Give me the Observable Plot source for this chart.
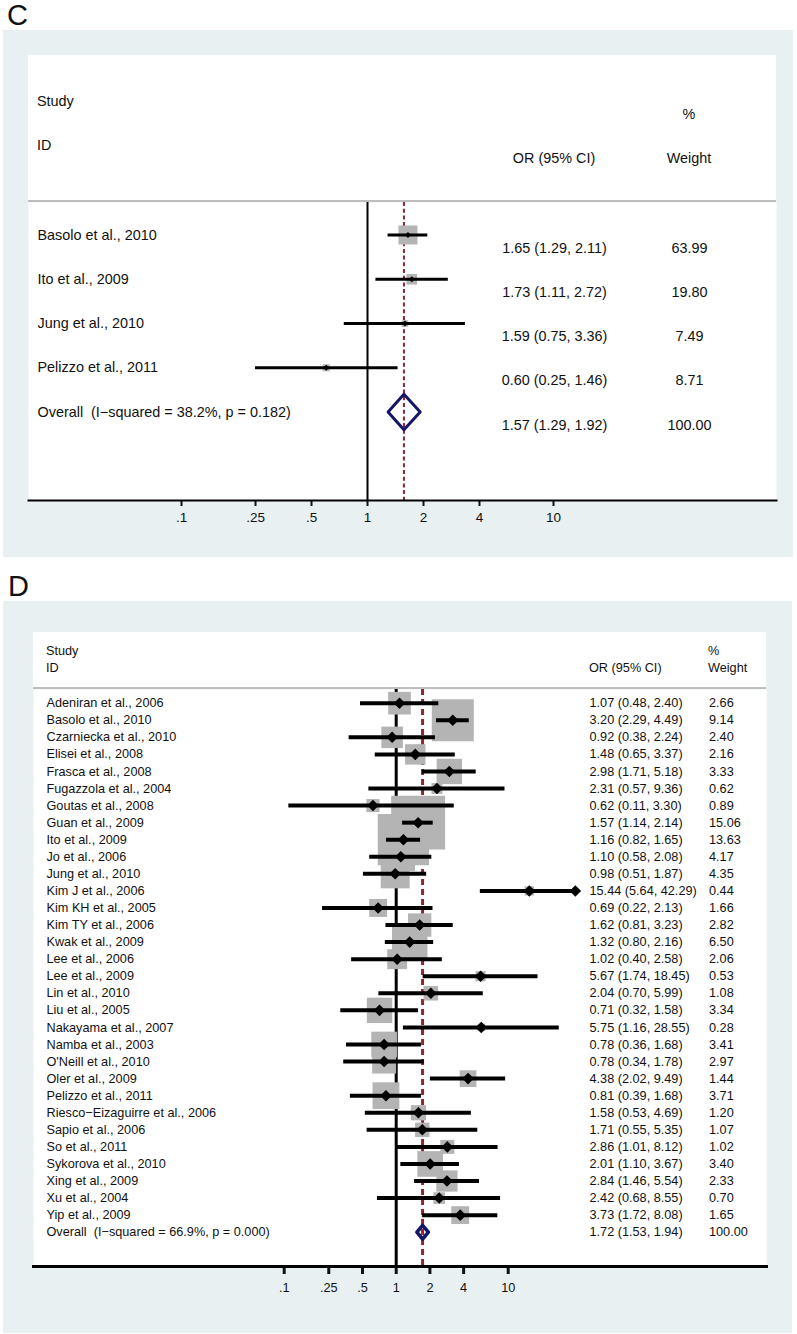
<!DOCTYPE html>
<html><head><meta charset="utf-8">
<script src="https://cdn.jsdelivr.net/npm/d3@7"></script>
<script src="https://cdn.jsdelivr.net/npm/@observablehq/plot@0.6"></script>
<style>
body{margin:0;background:#fff;font-family:"Liberation Sans",Arial,Helvetica,sans-serif;color:#111;}
#page{position:relative;width:797px;height:1334px;overflow:hidden;}
.bg{position:absolute;background:#e8f0f2;}
.hdr{position:absolute;background:#fff;border-bottom:2px solid #bdbdbd;box-sizing:border-box;}
.t{position:absolute;white-space:pre;line-height:1;}
.panel{position:absolute;left:0;}
svg text{white-space:pre;}
</style></head>
<body><div id="page"></div>
<script>
// ---------- shared axis ----------
const tickValues = [0.1, 0.25, 0.5, 1, 2, 4, 10];
const tickLabels = [".1", ".25", ".5", "1", "2", "4", "10"];

// ---------- Panel C data ----------
const studiesC = ["Basolo et al., 2010", "Ito et al., 2009", "Jung et al., 2010", "Pelizzo et al., 2011"];
const orC = [1.65, 1.73, 1.59, 0.60];
const loC = [1.29, 1.11, 0.75, 0.25];
const hiC = [2.11, 2.72, 3.36, 1.46];
const weightC = [63.99, 19.80, 7.49, 8.71];
const overallLabelC = "Overall\u00a0 (I\u2212squared = 38.2%, p = 0.182)";
const overallC = [1.57, 1.29, 1.92];
const overallWeightC = 100.00;

// ---------- Panel D data ----------
const studiesD = ["Adeniran et al., 2006", "Basolo et al., 2010", "Czarniecka et al., 2010", "Elisei et al., 2008",
  "Frasca et al., 2008", "Fugazzola et al., 2004", "Goutas et al., 2008", "Guan et al., 2009", "Ito et al., 2009",
  "Jo et al., 2006", "Jung et al., 2010", "Kim J et al., 2006", "Kim KH et al., 2005", "Kim TY et al., 2006",
  "Kwak et al., 2009", "Lee et al., 2006", "Lee et al., 2009", "Lin et al., 2010", "Liu et al., 2005",
  "Nakayama et al., 2007", "Namba et al., 2003", "O'Neill et al., 2010", "Oler et al., 2009", "Pelizzo et al., 2011",
  "Riesco\u2212Eizaguirre et al., 2006", "Sapio et al., 2006", "So et al., 2011", "Sykorova et al., 2010",
  "Xing et al., 2009", "Xu et al., 2004", "Yip et al., 2009"];
const orD = [1.07, 3.20, 0.92, 1.48, 2.98, 2.31, 0.62, 1.57, 1.16, 1.10, 0.98, 15.44, 0.69, 1.62, 1.32, 1.02, 5.67, 2.04, 0.71, 5.75, 0.78, 0.78, 4.38, 0.81, 1.58, 1.71, 2.86, 2.01, 2.84, 2.42, 3.73];
const loD = [0.48, 2.29, 0.38, 0.65, 1.71, 0.57, 0.11, 1.14, 0.82, 0.58, 0.51, 5.64, 0.22, 0.81, 0.80, 0.40, 1.74, 0.70, 0.32, 1.16, 0.36, 0.34, 2.02, 0.39, 0.53, 0.55, 1.01, 1.10, 1.46, 0.68, 1.72];
const hiD = [2.40, 4.49, 2.24, 3.37, 5.18, 9.36, 3.30, 2.14, 1.65, 2.08, 1.87, 42.29, 2.13, 3.23, 2.16, 2.58, 18.45, 5.99, 1.58, 28.55, 1.68, 1.78, 9.49, 1.68, 4.69, 5.35, 8.12, 3.67, 5.54, 8.55, 8.08];
const weightD = [2.66, 9.14, 2.40, 2.16, 3.33, 0.62, 0.89, 15.06, 13.63, 4.17, 4.35, 0.44, 1.66, 2.82, 6.50, 2.06, 0.53, 1.08, 3.34, 0.28, 3.41, 2.97, 1.44, 3.71, 1.20, 1.07, 1.02, 3.40, 2.33, 0.70, 1.65];
const arrowStudiesD = ["Kim J et al., 2006"];
const overallLabelD = "Overall\u00a0 (I\u2212squared = 66.9%, p = 0.000)";
const overallD = [1.72, 1.53, 1.94];
const overallWeightD = 100.00;

const fmt = v => v.toFixed(2);
const page = document.getElementById("page");

function div(cls, styles, text) {
  const d = document.createElement("div");
  d.className = cls;
  Object.assign(d.style, styles);
  if (text != null) d.textContent = text;
  return d;
}
function addText(parent, txt, x, y, size, anchor) {
  const d = div("t", {left: x + "px", top: y + "px", fontSize: size + "px",
    transform: anchor === "middle" ? "translate(-50%,-50%)" : "translate(0,-50%)"}, txt);
  parent.appendChild(d);
}

function forest(o) {
  const n = o.studies.length;
  const rows = o.studies.map((s, i) => ({
    i, study: s, or: o.or[i], lo: o.lo[i], hi: o.hi[i], w: o.weight[i],
    ci: `${fmt(o.or[i])} (${fmt(o.lo[i])}, ${fmt(o.hi[i])})`, wt: fmt(o.weight[i])
  }));
  const [est, lo, hi] = o.overall;
  const ov = {i: n, study: o.overallLabel, ci: `${fmt(est)} (${fmt(lo)}, ${fmt(hi)})`, wt: fmt(o.overallWeight)};
  const allRows = [...rows, ov];
  const h = o.diamondH;
  const diamond = [{x: lo, y: n}, {x: est, y: n - h}, {x: hi, y: n}, {x: est, y: n + h}];
  const arrows = rows.filter(r => (o.arrows || []).includes(r.study));
  return Plot.plot({
    width: 797, height: o.height,
    marginTop: 0, marginLeft: o.marginLeft, marginRight: o.marginRight, marginBottom: o.marginBottom,
    style: {background: "transparent", fontFamily: '"Liberation Sans", Arial, Helvetica, sans-serif', color: "#111"},
    x: {type: "log", domain: [0.1, 10], range: o.xRange, label: null},
    y: {domain: [0, n], range: o.yRange, axis: null},
    r: {type: "sqrt", domain: [0, 100], range: [0, o.rMax]},
    marks: [
      Plot.frame({fill: "white", stroke: null}),
      Plot.ruleX([1], {stroke: "black", strokeWidth: o.refWidth}),
      Plot.ruleX([est], {stroke: "#8b2635", strokeWidth: o.dashWidth, strokeDasharray: o.dash}),
      Plot.dot(rows, {x: "or", y: "i", r: "w", symbol: "square", fill: "#b4b4b4", stroke: null}),
      Plot.ruleY(rows, {y: "i", x1: "lo", x2: "hi", stroke: "black", strokeWidth: o.ciWidth}),
      Plot.dot(rows, {x: "or", y: "i", r: o.markerR, symbol: "diamond2", fill: "black", stroke: null}),
      Plot.dot(arrows, {x: "hi", y: "i", r: o.markerR, symbol: "diamond2", fill: "black", stroke: null, dx: -3}),
      Plot.line(diamond, {x: "x", y: "y", curve: "linear-closed", stroke: "#161668", strokeWidth: o.diamondWidth}),
      Plot.text(allRows, {y: "i", text: "study", frameAnchor: "left", dx: o.labelDx, textAnchor: "start", fontSize: o.fontSize, fill: "#111"}),
      Plot.text(allRows, {y: "i", text: "ci", frameAnchor: "left", dx: o.ciDx, dy: o.valueDy, textAnchor: o.colAnchor, fontSize: o.fontSize, fill: "#111"}),
      Plot.text(allRows, {y: "i", text: "wt", frameAnchor: "left", dx: o.wtDx, dy: o.valueDy, textAnchor: o.colAnchor, fontSize: o.fontSize, fill: "#111"}),
      Plot.axisX({ticks: tickValues, tickFormat: d => tickLabels[tickValues.indexOf(d)], tickSize: o.tickSize, tickPadding: o.tickPadding,
        strokeWidth: o.axisWidth, fontSize: o.tickFont, label: null, anchor: "bottom"}),
      Plot.frame({anchor: "bottom", stroke: "black", strokeWidth: o.axisWidth})
    ]
  });
}

// ---------- Panel C layout ----------
page.appendChild(div("t", {left: "7px", top: "1px", fontSize: "29px"}, "C"));
page.appendChild(div("bg", {left: "3px", top: "30px", width: "790px", height: "527px"}));
const hdrC = div("hdr", {left: "28px", top: "55px", width: "748px", height: "147px"});
addText(hdrC, "Study", 9, 46, 14.4, "start");
addText(hdrC, "ID", 9, 90, 14.4, "start");
addText(hdrC, "%", 661, 59, 14.4, "middle");
addText(hdrC, "OR (95% CI)", 526, 103, 14.4, "middle");
addText(hdrC, "Weight", 661, 103, 14.4, "middle");
page.appendChild(hdrC);
const plotC = forest({
  studies: studiesC, or: orC, lo: loC, hi: hiC, weight: weightC,
  overallLabel: overallLabelC, overall: overallC, overallWeight: overallWeightC,
  height: 356, marginLeft: 28, marginRight: 21, marginBottom: 58,
  xRange: [181, 553], yRange: [32.5, 209.5],
  fontSize: 14.4, labelDx: 9, ciDx: 526, wtDx: 661, colAnchor: "middle", valueDy: 13,
  rMax: 13.4, ciWidth: 3, markerR: 2.8, refWidth: 2, dashWidth: 2, dash: "4,2.7",
  diamondH: 0.4, diamondWidth: 3, axisWidth: 2, tickSize: 6, tickPadding: 6, tickFont: 13.5
});
plotC.classList.add("panel");
plotC.style.top = "202px";
page.appendChild(plotC);

// ---------- Panel D layout ----------
page.appendChild(div("t", {left: "8px", top: "572px", fontSize: "29px"}, "D"));
page.appendChild(div("bg", {left: "3px", top: "601px", width: "789px", height: "732px"}));
const hdrD = div("hdr", {left: "33px", top: "632px", width: "733px", height: "57px"});
addText(hdrD, "Study", 13, 19, 12.7, "start");
addText(hdrD, "ID", 13, 36, 12.7, "start");
addText(hdrD, "%", 675, 19, 12.7, "start");
addText(hdrD, "Weight", 675, 36, 12.7, "start");
addText(hdrD, "OR (95% CI)", 556, 36, 12.7, "start");
page.appendChild(hdrD);
const plotD = forest({
  studies: studiesD, or: orD, lo: loD, hi: hiD, weight: weightD, arrows: arrowStudiesD,
  overallLabel: overallLabelD, overall: overallD, overallWeight: overallWeightD,
  height: 645, marginLeft: 33, marginRight: 31, marginBottom: 68,
  xRange: [283.7, 507.7], yRange: [13.7, 542.7],
  fontSize: 12.7, labelDx: 13, ciDx: 556, wtDx: 675.5, colAnchor: "start", valueDy: 0,
  rMax: 78.4, ciWidth: 4, markerR: 5.2, refWidth: 3, dashWidth: 3, dash: "6,4",
  diamondH: 0.4, diamondWidth: 3.6, axisWidth: 3, tickSize: 8, tickPadding: 8, tickFont: 12.7
});
plotD.classList.add("panel");
plotD.style.top = "689px";
page.appendChild(plotD);
</script></body></html>
